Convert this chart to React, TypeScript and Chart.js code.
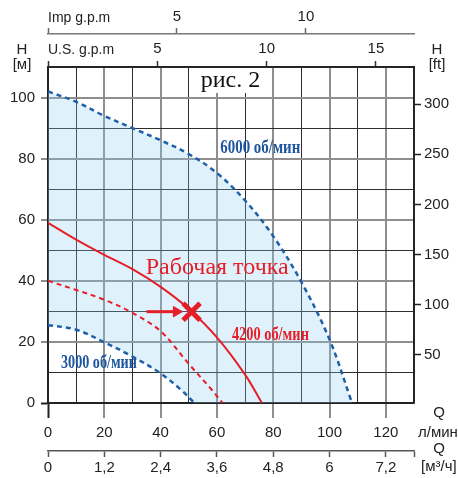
import React, { useEffect, useRef } from 'react';
import { Chart, registerables } from 'chart.js';
Chart.register(...registerables);

// ---- data (Q in l/min, H in m) ----
const q6000 = [0, 10, 20, 30, 40, 50, 60, 70, 80, 90, 100, 108];
const h6000 = [102, 98.6, 94, 90, 86, 81.5, 75.3, 66.3, 54.6, 39.6, 20.8, 0];

const q3000 = [0, 10, 20, 30, 40, 47, 52];
const h3000 = [25.5, 24, 19.9, 15.2, 9.7, 4.5, 0];

const q4200d = [0, 10, 20, 30, 40, 50, 58, 62];
const h4200d = [40, 37, 33.8, 29.5, 23.5, 12.8, 4.5, 0];

const q4200 = [0, 10, 20, 30, 40, 50, 60, 70, 76];
const h4200 = [59, 53.5, 48.5, 43.8, 38, 30.8, 21.5, 9.3, 0];

const workQ = [51];
const workH = [29.9];
const arrowQ = [35, 45.6];
const arrowH = [29.9, 29.9];

const qTicks = [0, 10, 20, 30, 40, 50, 60, 70, 80, 90, 100, 110, 120, 130];
const hTicks = [0, 10, 20, 30, 40, 50, 60, 70, 80, 90, 100, 110];
const ftTicks = [50, 100, 150, 200, 250, 300];
const usTicks = [0, 5, 10, 15];
const impTicks = [0, 5, 10];
const m3hTicks = [0, 1.2, 2.4, 3.6, 4.8, 6, 7.2, 7.8];

const BLUE = '#1f5fa8';
const BLUE_TXT = '#1d55a0';
const RED = '#e61e28';
const SANS = "'Liberation Sans', Arial, sans-serif";
const SERIF = "'Liberation Serif', 'Times New Roman', serif";

const zip = (xs: number[], ys: number[]) => xs.map((x, i) => ({ x, y: ys[i] }));

const isMajor = (v: number) => Math.abs(v % 20) < 1e-9;
const gridColor = (ctx: any) => {
  const v = ctx.tick ? ctx.tick.value : 1;
  if (v === 0) return '#222';
  return isMajor(v) ? '#8e8e8e' : '#2d2d2d';
};
const gridWidth = (ctx: any) => {
  const v = ctx.tick ? ctx.tick.value : 1;
  return isMajor(v) && v !== 0 ? 2 : 1;
};
const tickColor = (ctx: any) => {
  const v = ctx.tick ? ctx.tick.value : 1;
  if (v === 0) return '#222';
  return isMajor(v) ? '#8e8e8e' : 'rgba(0,0,0,0)';
};

const fmtComma = (v: number) => String(Number(v.toFixed(1))).replace('.', ',');

function drawText(
  ctx: CanvasRenderingContext2D,
  text: string,
  x: number,
  y: number,
  font: string,
  color: string,
  align: CanvasTextAlign = 'center',
  fitWidth?: number
) {
  ctx.save();
  ctx.font = font;
  ctx.fillStyle = color;
  ctx.textAlign = align;
  ctx.textBaseline = 'middle';
  ctx.translate(x, y);
  if (fitWidth) {
    const w = ctx.measureText(text).width;
    ctx.scale(fitWidth / w, 1);
  }
  ctx.fillText(text, 0, 0);
  ctx.restore();
}

const annotPlugin = {
  id: 'annot',
  beforeDatasetsDraw(chart: any) {
    const { ctx, scales } = chart;
    const x = scales.x;
    const y = scales.y;
    const l = x.getPixelForValue(50) + 1.5;
    const r = x.getPixelForValue(80) - 1.5;
    const t = y.getPixelForValue(110) + 1;
    const b = y.getPixelForValue(101.5);
    ctx.save();
    ctx.fillStyle = '#ffffff';
    ctx.fillRect(l, t, r - l, b - t);
    ctx.restore();
  },
  afterDraw(chart: any) {
    const { ctx, scales } = chart;
    const x = scales.x;
    const y = scales.y;
    const P = (q: number, h: number) => [x.getPixelForValue(q), y.getPixelForValue(h)];

    let [px, py] = P(64.8, 105.4);
    drawText(ctx, 'рис. 2', px, py, `24px ${SERIF}`, '#111');
    [px, py] = P(60.1, 44.2);
    drawText(ctx, 'Рабочая точка', px, py, `24px ${SERIF}`, RED);
    [px, py] = P(75.4, 83.5);
    drawText(ctx, '6000 об/мин', px, py, `bold 19px ${SERIF}`, BLUE_TXT, 'center', 80);
    [px, py] = P(79, 22.3);
    drawText(ctx, '4200 об/мин', px, py, `bold 19px ${SERIF}`, RED, 'center', 77);
    [px, py] = P(18.1, 13.1);
    drawText(ctx, '3000 об/мин', px, py, `bold 19px ${SERIF}`, BLUE_TXT, 'center', 76);

    const f = `15px ${SANS}`;
    const c = '#222';
    drawText(ctx, 'H', 22, 50, f, c);
    drawText(ctx, '[м]', 22, 65, f, c);
    drawText(ctx, 'H', 437, 50, f, c);
    drawText(ctx, '[ft]', 437, 65, f, c);
    drawText(ctx, 'Q', 439, 413, f, c);
    drawText(ctx, 'л/мин', 418, 433, f, c, 'left');
    drawText(ctx, 'Q', 439, 449, f, c);
    drawText(ctx, '[м³/ч]', 421, 467, f, c, 'left');
    drawText(ctx, 'Imp g.p.m', 48, 18, `14px ${SANS}`, c, 'left');
    drawText(ctx, 'U.S. g.p.m', 48, 50, `14px ${SANS}`, c, 'left');
  },
};

const setTicks = (vals: number[]) => (axis: any) => {
  axis.ticks = vals.map((v) => ({ value: v }));
};

export default function App() {
  const ref = useRef<HTMLCanvasElement | null>(null);

  useEffect(() => {
    if (!ref.current) return;
    const tickFont = { family: SANS, size: 15 };
    const boundary = zip(q3000, h3000).concat([{ x: 108, y: 0 }]);
    const lineBase = {
      pointRadius: 0,
      tension: 0.35,
    };
    const chart = new Chart(ref.current, {
      type: 'line',
      data: {
        datasets: [
          {
            ...lineBase,
            label: '6000',
            data: zip(q6000, h6000),
            borderColor: BLUE,
            borderWidth: 2.5,
            borderDash: [5, 4],
            fill: 1,
            backgroundColor: 'rgba(140, 205, 240, 0.28)',
          },
          {
            ...lineBase,
            label: 'boundary',
            data: boundary,
            borderColor: 'rgba(0,0,0,0)',
            borderWidth: 0,
            tension: 0.2,
            fill: false,
          },
          {
            ...lineBase,
            label: '3000',
            data: zip(q3000, h3000),
            borderColor: BLUE,
            borderWidth: 2.5,
            borderDash: [5, 4],
            fill: false,
          },
          {
            ...lineBase,
            label: '4200d',
            data: zip(q4200d, h4200d),
            borderColor: RED,
            borderWidth: 2,
            borderDash: [5, 4],
            fill: false,
          },
          {
            ...lineBase,
            label: '4200',
            data: zip(q4200, h4200),
            borderColor: RED,
            borderWidth: 2,
            fill: false,
          },
          {
            label: 'arrow',
            data: zip(arrowQ, arrowH),
            borderColor: RED,
            backgroundColor: RED,
            borderWidth: 3,
            pointRadius: [0, 6],
            pointStyle: 'triangle',
            pointRotation: 90,
            pointBorderWidth: 1,
            fill: false,
            tension: 0,
          },
          {
            label: 'work',
            data: zip(workQ, workH),
            showLine: false,
            pointStyle: 'crossRot',
            pointRadius: 12,
            pointBorderWidth: 5,
            borderColor: RED,
            backgroundColor: RED,
            fill: false,
          },
        ],
      },
      options: {
        animation: false,
        responsive: true,
        maintainAspectRatio: false,
        layout: { padding: 0 },
        plugins: {
          legend: { display: false },
          tooltip: { enabled: false },
          filler: { drawTime: 'beforeDatasetsDraw' },
        } as any,
        scales: {
          x: {
            type: 'linear',
            position: 'bottom',
            weight: 0,
            min: 0,
            max: 130,
            afterBuildTicks: setTicks(qTicks),
            afterFit: (a: any) => { a.height = 48; },
            ticks: {
              callback: (v: any) => (isMajor(Number(v)) ? String(v) : ''),
              color: '#222',
              font: tickFont,
              padding: 6,
              maxRotation: 0,
              autoSkip: false,
            },
            grid: {
              color: gridColor,
              lineWidth: gridWidth,
              tickLength: 15,
              tickColor: tickColor,
              tickWidth: 2,
            },
            border: { display: true, color: '#222', width: 1.5 },
          },
          xm3: {
            type: 'linear',
            position: 'bottom',
            weight: 1,
            min: 0,
            max: 7.8,
            afterBuildTicks: setTicks(m3hTicks),
            afterFit: (a: any) => { a.height = 27; },
            ticks: {
              callback: (v: any) => (Math.abs(Number(v) - 7.8) < 1e-6 ? '' : fmtComma(Number(v))),
              color: '#222',
              font: tickFont,
              padding: 2,
              maxRotation: 0,
              autoSkip: false,
            },
            grid: {
              drawOnChartArea: false,
              tickLength: 6,
              color: '#555',
              tickColor: '#555',
              tickWidth: 1.5,
            },
            border: { display: true, color: '#555', width: 1.5 },
          },
          xus: {
            type: 'linear',
            position: 'top',
            weight: 0,
            min: 0,
            max: 16.74,
            afterBuildTicks: setTicks(usTicks),
            afterFit: (a: any) => { a.height = 33; },
            ticks: {
              callback: (v: any) => (Number(v) === 0 ? '' : String(v)),
              color: '#222',
              font: tickFont,
              padding: 3,
              maxRotation: 0,
              autoSkip: false,
            },
            grid: {
              drawOnChartArea: false,
              tickLength: 6,
              color: '#333',
              tickColor: '#333',
              tickWidth: 1.5,
            },
            border: { display: true, color: '#222', width: 1.5 },
          },
          ximp: {
            type: 'linear',
            position: 'top',
            weight: 1,
            min: 0,
            max: 14.19,
            afterBuildTicks: setTicks(impTicks),
            afterFit: (a: any) => { a.height = 34; },
            ticks: {
              callback: (v: any) => (Number(v) === 0 ? '' : String(v)),
              color: '#222',
              font: tickFont,
              padding: 2,
              maxRotation: 0,
              autoSkip: false,
            },
            grid: {
              drawOnChartArea: false,
              tickLength: 6,
              color: '#666',
              tickColor: '#666',
              tickWidth: 1.5,
            },
            border: { display: true, color: '#777', width: 1.5 },
          },
          y: {
            type: 'linear',
            position: 'left',
            min: 0,
            max: 110,
            afterBuildTicks: setTicks(hTicks),
            afterFit: (a: any) => { a.width = 48; },
            ticks: {
              callback: (v: any) => (isMajor(Number(v)) ? String(v) : ''),
              color: '#222',
              font: tickFont,
              padding: 6,
              autoSkip: false,
            },
            grid: {
              color: gridColor,
              lineWidth: gridWidth,
              tickLength: 7,
              tickColor: tickColor,
              tickWidth: 2,
            },
            border: { display: true, color: '#222', width: 1.5 },
          },
          yft: {
            type: 'linear',
            position: 'right',
            min: 2,
            max: 337,
            afterBuildTicks: setTicks(ftTicks),
            afterFit: (a: any) => { a.width = 44; },
            ticks: {
              color: '#222',
              font: tickFont,
              padding: 3,
              autoSkip: false,
            },
            grid: {
              drawOnChartArea: false,
              tickLength: 7,
              color: '#222',
              tickColor: '#222',
              tickWidth: 1.5,
            },
            border: { display: true, color: '#222', width: 1.5 },
          },
        },
      } as any,
      plugins: [annotPlugin],
    });
    return () => chart.destroy();
  }, []);

  return (
    <div style={{ position: 'absolute', left: 0, top: 0, width: 458, height: 478, background: '#fff' }}>
      <canvas ref={ref} />
    </div>
  );
}
